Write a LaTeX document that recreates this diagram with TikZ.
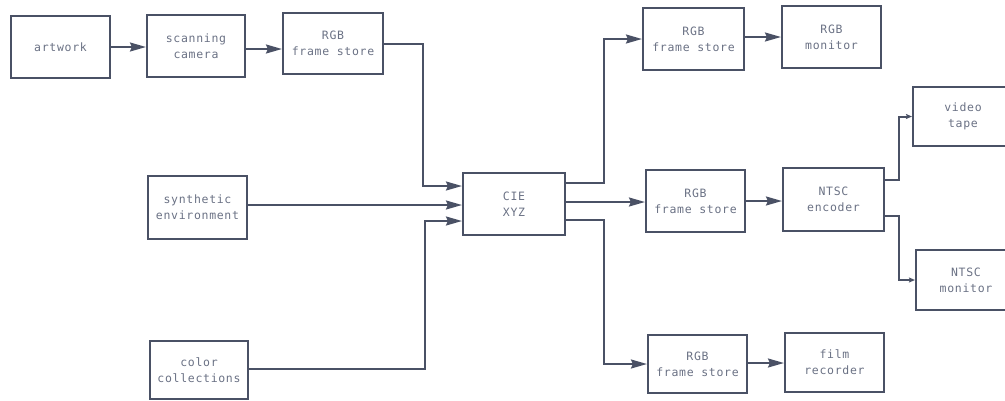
\documentclass[tikz,border=0pt]{standalone}
\usepackage{fontspec}
\setmonofont[LetterSpace=6]{DejaVu Sans Mono}
\usetikzlibrary{arrows.meta}
\definecolor{ink}{HTML}{4A5165}
\definecolor{txt}{HTML}{6A7184}
\tikzset{
  blk/.style={draw=ink, line width=2.1pt, rectangle, inner sep=0pt, align=center,
    text=txt, font=\ttfamily\fontsize{11.5}{16}\selectfont},
  arr/.style={draw=ink, line width=2pt, -{Stealth[length=16pt,width=9pt,inset=2pt]}},
  sarr/.style={draw=ink, line width=2pt, -{Stealth[length=6pt,width=5pt,inset=1pt]}},
}
\begin{document}
\begin{tikzpicture}[x=1pt,y=-1pt]
\useasboundingbox (0,0) rectangle (1005,400);
\node[blk, minimum width=99pt, minimum height=62pt] (art) at (60.5,47) {artwork};
\node[blk, minimum width=98pt, minimum height=62pt] (scan) at (196,46) {scanning\\camera};
\node[blk, minimum width=100pt, minimum height=61pt] (rgbA) at (333,43.5) {RGB\\frame store};
\node[blk, minimum width=99pt, minimum height=63pt] (syn) at (197.5,207.5) {synthetic\\environment};
\node[blk, minimum width=98pt, minimum height=58pt] (col) at (199,370) {color\\collections};
\node[blk, minimum width=102pt, minimum height=62pt] (cie) at (514,204) {CIE\\XYZ};
\node[blk, minimum width=101pt, minimum height=62pt] (rgbT) at (693.5,39) {RGB\\frame store};
\node[blk, minimum width=99pt, minimum height=62pt] (rmon) at (831.5,37) {RGB\\monitor};
\node[blk, minimum width=99pt, minimum height=62pt] (rgbM) at (695.5,201) {RGB\\frame store};
\node[blk, minimum width=101pt, minimum height=63pt] (enc) at (833.5,199.5) {NTSC\\encoder};
\node[blk, minimum width=100pt, minimum height=59pt] (tape) at (963,116.5) {video\\tape};
\node[blk, minimum width=100pt, minimum height=60pt] (nmon) at (966,280) {NTSC\\monitor};
\node[blk, minimum width=99pt, minimum height=58pt] (rgbB) at (697.5,364) {RGB\\frame store};
\node[blk, minimum width=99pt, minimum height=59pt] (film) at (834.5,362.5) {film\\recorder};
\coordinate (busA) at (423,0);
\coordinate (busB) at (425,0);
\coordinate (busC) at (604,0);
\coordinate (busD) at (899,0);
% left side
\draw[arr] (art) -- (scan.west |- art);
\draw[arr] ([yshift=-3pt]scan.east) -- ([yshift=-3pt]scan.east -| rgbA.west);
\draw[arr] (rgbA.east) -- (rgbA.east -| busA) |- ([yshift=18pt]cie.west);
\draw[arr] ([yshift=2.5pt]syn.east) -- ([yshift=2.5pt]syn.east -| cie.west);
\draw[arr] ([yshift=1pt]col.east) -- ([yshift=1pt]col.east -| busB) |- ([yshift=-17pt]cie.west);
% right side
\draw[arr] ([yshift=21pt]cie.east) -- ([yshift=21pt]cie.east -| busC) |- (rgbT.west);
\draw[arr] ([yshift=2pt]cie.east) -- ([yshift=2pt]cie.east -| rgbM.west);
\draw[arr] ([yshift=-16pt]cie.east) -- ([yshift=-16pt]cie.east -| busC) |- (rgbB.west);
\draw[arr] ([yshift=2pt]rgbT.east) -- ([yshift=2pt]rgbT.east -| rmon.west);
\draw[arr] (rgbM.east) -- (rgbM.east -| enc.west);
\draw[arr] ([yshift=1pt]rgbB.east) -- ([yshift=1pt]rgbB.east -| film.west);
\draw[sarr] ([yshift=19.5pt]enc.east) -- ([yshift=19.5pt]enc.east -| busD) |- (tape.west);
\draw[sarr] ([yshift=-16.5pt]enc.east) -- ([yshift=-16.5pt]enc.east -| busD) |- (nmon.west);
\end{tikzpicture}
\end{document}
